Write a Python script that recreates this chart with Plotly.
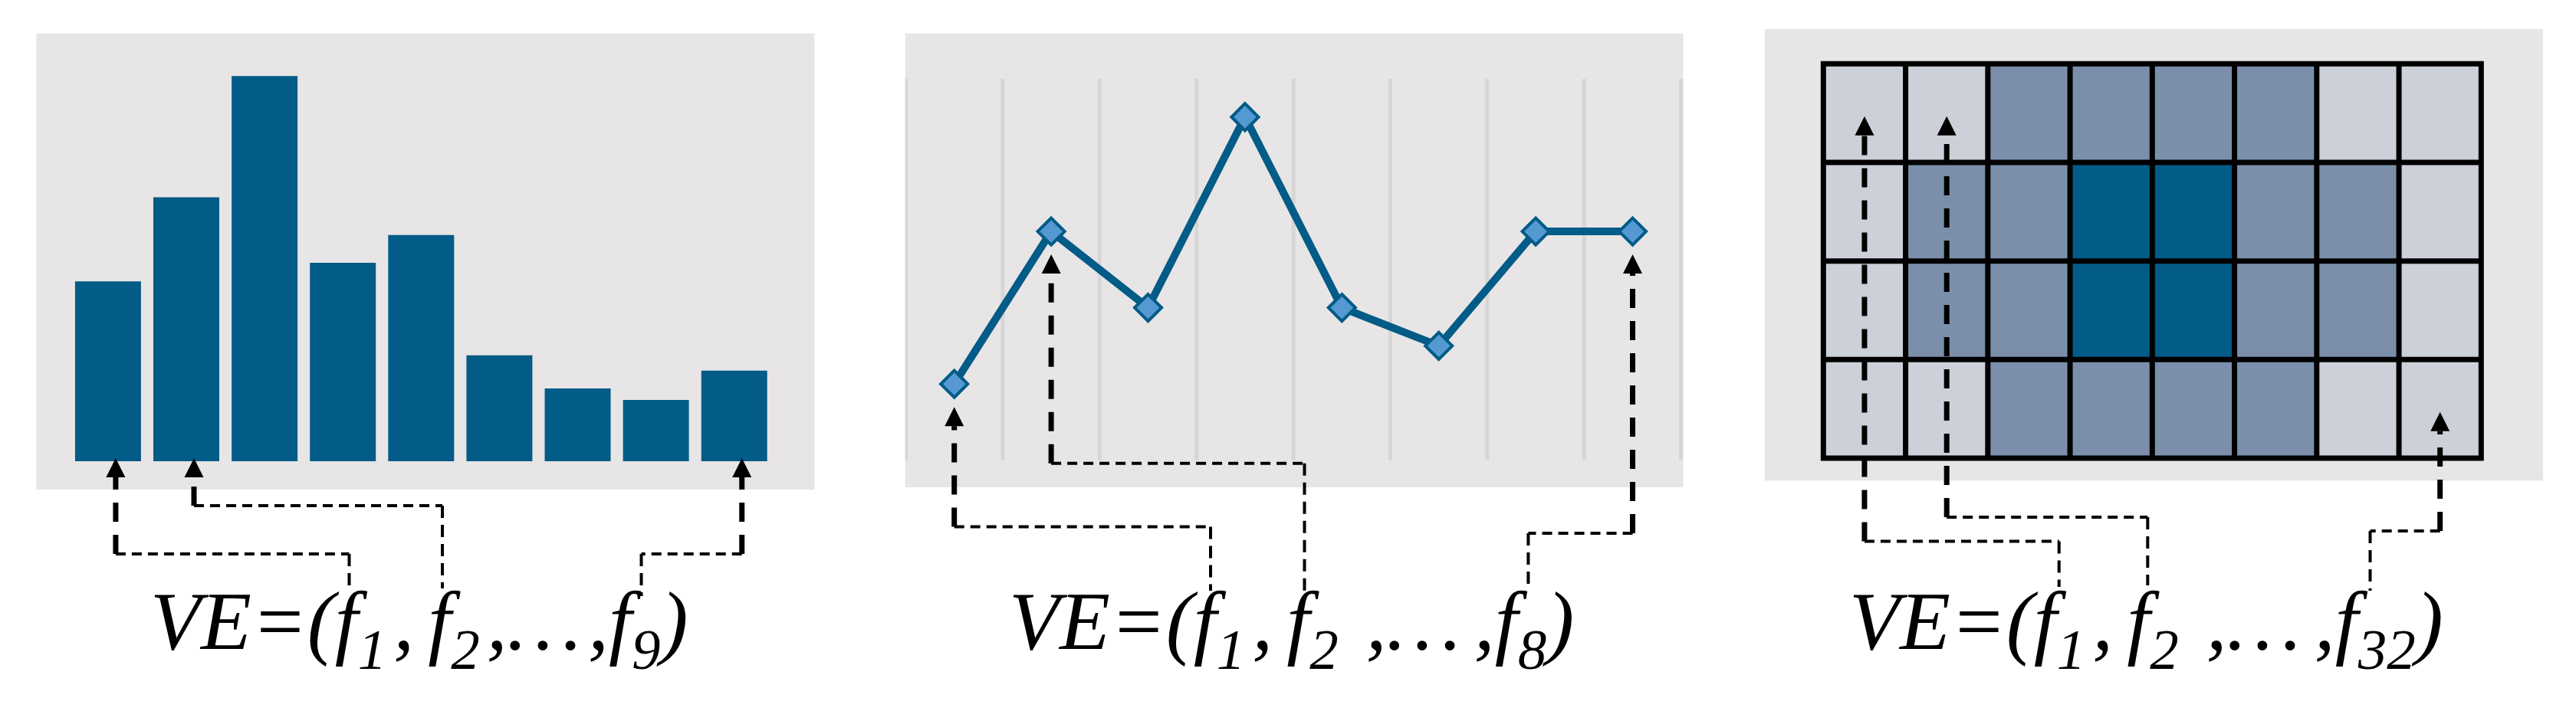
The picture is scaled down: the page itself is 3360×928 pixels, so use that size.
import plotly.graph_objects as go

W, H = 3360, 928

# ---------------- data ----------------
bar_labels = ["f1", "f2", "f3", "f4", "f5", "f6", "f7", "f8", "f9"]
bar_values = [4.67, 6.85, 10.0, 5.15, 5.87, 2.75, 1.89, 1.59, 2.35]

line_labels = [0, 1, 2, 3, 4, 5, 6, 7]
line_values = [2, 6, 4, 9, 4, 3, 6, 6]
line_grid_span = (0, 10)

grid_cols = [0, 1, 2, 3, 4, 5, 6, 7]
grid_rows = [0, 1, 2, 3]
grid_levels = [
    [0, 0, 1, 1, 1, 1, 0, 0],
    [0, 1, 1, 2, 2, 1, 1, 0],
    [0, 1, 1, 2, 2, 1, 1, 0],
    [0, 0, 1, 1, 1, 1, 0, 0],
]

formula_last = ["9", "8", "32"]

# ---------------- style ----------------
BLUE = "#035b87"
MARK = "#5599d2"
BG = "#e7e5e6"
VGRID = "#d7d5d6"
HEAT = ["#ccd0d9", "#7b8fab", "#035b87"]
FONT = "Liberation Serif, Times New Roman, serif"
FSIZE = 108

# panel frames in pixels: (left, right), (top, bottom), axis ranges
PANELS = {
    1: dict(px=(39.3, 1054.3), py=(35.5, 631.0), xr=(-0.9168, 9.0245), yr=(-0.7359, 11.108)),
    2: dict(px=(1172.7, 2187.5), py=(35.5, 628.0), xr=(-0.5063, 7.522), yr=(-0.709, 11.195)),
    3: dict(px=(2293.6, 3309.0), py=(30.0, 619.3), xr=(-1.2152, 8.2524), yr=(3.7277, -0.852)),
}


def PX(x):
    return x / W


def PY(y):
    return 1 - y / H


def to_px(p, xv, yv):
    d = PANELS[p]
    (l, r), (t, b) = d["px"], d["py"]
    x0, x1 = d["xr"]
    y0, y1 = d["yr"]
    return (l + (xv - x0) / (x1 - x0) * (r - l),
            b - (yv - y0) / (y1 - y0) * (b - t))


fig = go.Figure()

fig.add_trace(go.Bar(x=bar_labels, y=bar_values, xaxis="x", yaxis="y",
                     marker=dict(color=BLUE, line=dict(width=0)), hoverinfo="skip"))

fig.add_trace(go.Scatter(x=line_labels, y=line_values, xaxis="x2", yaxis="y2",
                         mode="lines+markers",
                         line=dict(color=BLUE, width=10),
                         marker=dict(symbol="diamond", size=27, color=MARK,
                                     line=dict(color=BLUE, width=4)),
                         hoverinfo="skip"))

fig.add_trace(go.Heatmap(z=grid_levels, x=grid_cols, y=grid_rows, xaxis="x3", yaxis="y3",
                         zmin=0, zmax=2, showscale=False, hoverinfo="skip",
                         colorscale=[[0, HEAT[0]], [1 / 3, HEAT[0]], [1 / 3, HEAT[1]],
                                     [2 / 3, HEAT[1]], [2 / 3, HEAT[2]], [1, HEAT[2]]]))

shapes = []

# vertical guide lines of the line chart
for k in range(len(line_labels) + 1):
    shapes.append(dict(type="line", xref="x2", yref="y2", layer="below",
                       x0=k - 0.5, x1=k - 0.5, y0=line_grid_span[0], y1=line_grid_span[1],
                       line=dict(color=VGRID, width=5)))

# grid of the cell chart
nC, nR = len(grid_cols), len(grid_rows)
shapes.append(dict(type="rect", xref="x3", yref="y3", x0=-0.5, x1=nC - 0.5, y0=-0.5, y1=nR - 0.5,
                   line=dict(color="black", width=7)))
for c in range(1, nC):
    shapes.append(dict(type="line", xref="x3", yref="y3", x0=c - 0.5, x1=c - 0.5,
                       y0=-0.5, y1=nR - 0.5, line=dict(color="black", width=7)))
for r in range(1, nR):
    shapes.append(dict(type="line", xref="x3", yref="y3", y0=r - 0.5, y1=r - 0.5,
                       x0=-0.5, x1=nC - 0.5, line=dict(color="black", width=7)))

# connectors: tip of each arrow taken from the data marks
tips = []
for i in (0, 1, 8):
    x, y = to_px(1, i, 0)
    tips.append((x + 10, y - 4))
for i in (0, 1, 7):
    x, y = to_px(2, line_labels[i], line_values[i])
    tips.append((x, y + 30))
for (r, c) in ((0, 0), (0, 1), (3, 7)):
    x, y = to_px(3, grid_cols[c], grid_rows[r])
    tips.append((x, y + 4))

# (horizontal level px, x where it meets the formula px, end y px)
routes = [
    (715, 447.5, 763), (652, 569, 760), (715, 828.5, 770),
    (679.6, 1571, 763), (596.7, 1693.5, 763), (688, 1985.4, 763),
    (698.6, 2677.7, 758), (667, 2793.3, 756), (685, 3083.5, 763),
]

THICK = dict(color="black", width=7, dash="25px,17px")
THIN_H = dict(color="black", width=4, dash="13px,8px")
THIN_V = dict(color="black", width=4, dash="16px,9px")

for (tx, ty), (hy, txx, tyy) in zip(tips, routes):
    shapes.append(dict(type="path", xref="paper", yref="paper",
                       path=f"M {PX(tx)},{PY(ty)} L {PX(tx - 12.5)},{PY(ty + 25)} "
                            f"L {PX(tx + 12.5)},{PY(ty + 25)} Z",
                       fillcolor="black", line=dict(width=0)))
    shapes.append(dict(type="line", xref="paper", yref="paper",
                       x0=PX(tx), x1=PX(tx), y0=PY(hy), y1=PY(ty + 25), line=THICK))
    shapes.append(dict(type="line", xref="paper", yref="paper",
                       x0=PX(tx), x1=PX(txx), y0=PY(hy), y1=PY(hy), line=THIN_H))
    shapes.append(dict(type="line", xref="paper", yref="paper",
                       x0=PX(txx), x1=PX(txx), y0=PY(hy), y1=PY(tyy), line=THIN_V))

HAIR = "\u200a"
SIXTH = "\u2006"
ELL = "\u2026"


def sub(s):
    return f'<span style="font-size:75px;baseline-shift:-26px">{s}</span>'


formulas = [
    f"VE=(f{sub('1')}{HAIR},{SIXTH}f{sub('2')}{HAIR},{ELL}{HAIR},f{sub(formula_last[0])})",
    f"VE=(f{sub('1')}{HAIR},{SIXTH}f{sub('2')} {HAIR},{ELL}{SIXTH},f{sub(formula_last[1])})",
    f"VE=(f{sub('1')}{HAIR},{SIXTH}f{sub('2')} {HAIR},{ELL}{SIXTH},f{sub(formula_last[2])})",
]
formula_x = [186, 1306, 2402]

annotations = []
for txt, fx in zip(formulas, formula_x):
    annotations.append(dict(text=txt, x=PX(fx), y=PY(812), xref="paper", yref="paper",
                            xanchor="left", yanchor="middle", showarrow=False,
                            font=dict(family=FONT, size=FSIZE, color="black", style="italic")))


def ax_style(p, which):
    d = PANELS[p]
    dom = [PX(d["px"][0]), PX(d["px"][1])] if which == "x" else [PY(d["py"][1]), PY(d["py"][0])]
    rng = list(d["xr"]) if which == "x" else list(d["yr"])
    return dict(domain=dom, range=rng, showgrid=False, zeroline=False, showline=False,
                showticklabels=False, ticks="", fixedrange=True)


fig.update_layout(
    width=W, height=H, margin=dict(l=0, r=0, t=0, b=0),
    paper_bgcolor="white", plot_bgcolor=BG, showlegend=False, bargap=0.158,
    xaxis=dict(**ax_style(1, "x"), anchor="y", type="category"),
    yaxis=dict(**ax_style(1, "y"), anchor="x"),
    xaxis2=dict(**ax_style(2, "x"), anchor="y2"),
    yaxis2=dict(**ax_style(2, "y"), anchor="x2"),
    xaxis3=dict(**ax_style(3, "x"), anchor="y3"),
    yaxis3=dict(**ax_style(3, "y"), anchor="x3"),
    shapes=shapes, annotations=annotations,
)

fig.write_html("out.html")
